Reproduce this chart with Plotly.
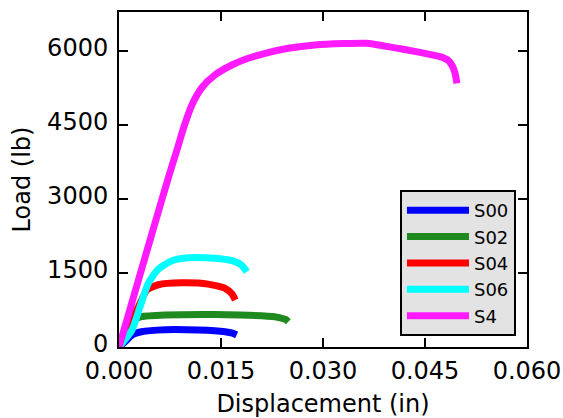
import plotly.graph_objects as go

# Displacement (in) / Load (lb)
s00_x = [0.0, 0.0009, 0.0019, 0.0033, 0.0068, 0.0117, 0.0156, 0.0167, 0.0173]
s00_y = [0, 107, 243, 310, 352, 345, 310, 280, 243]

s02_x = [0.0, 0.0010, 0.0023, 0.0033, 0.0068, 0.0141, 0.0178, 0.0229, 0.0237, 0.0245, 0.0249]
s02_y = [0, 230, 547, 614, 649, 660, 649, 614, 590, 560, 513]

s04_x = [0.0, 0.0015, 0.0031, 0.0041, 0.0058, 0.0092, 0.0131, 0.0156, 0.0166, 0.0171]
s04_y = [0, 440, 886, 1155, 1262, 1300, 1275, 1190, 1080, 953]

s06_x = [0.0, 0.0019, 0.0031, 0.0043, 0.0058, 0.0078, 0.0102, 0.0141, 0.0166, 0.0180, 0.0188]
s06_y = [0, 345, 817, 1291, 1580, 1750, 1810, 1800, 1750, 1662, 1526]

s4_x = [0.0, 0.0050, 0.0073, 0.0086, 0.0095, 0.0107, 0.0122, 0.0141, 0.0166, 0.0190, 0.0215, 0.0249, 0.0288, 0.0330, 0.0364, 0.0388, 0.0420, 0.0450, 0.0472, 0.0484, 0.0490, 0.0494, 0.0497]
s4_y = [0, 2372, 3452, 4030, 4440, 4900, 5260, 5513, 5716, 5852, 5953, 6054, 6122, 6150, 6156, 6107, 6030, 5950, 5884, 5810, 5700, 5560, 5345]

series_names = ["S00", "S02", "S04", "S06", "S4"]
series_x = [s00_x, s02_x, s04_x, s06_x, s4_x]
series_y = [s00_y, s02_y, s04_y, s06_y, s4_y]
series_colors = ["#0000ff", "#1f8a1f", "#ff0000", "#00ffff", "#ff1aff"]

x_ticks = [0.0, 0.015, 0.030, 0.045, 0.060]
y_ticks = [0, 1500, 3000, 4500, 6000]

fig = go.Figure()
for name, xs, ys, col in zip(series_names, series_x, series_y, series_colors):
    fig.add_trace(go.Scatter(
        x=xs, y=ys, mode="lines", name=name,
        line=dict(color=col, width=7, shape="spline", smoothing=0.6),
    ))

font = dict(family="DejaVu Sans", size=24, color="black")

fig.update_layout(
    width=563, height=418,
    margin=dict(l=119, r=36, t=12, b=71),
    paper_bgcolor="white", plot_bgcolor="white",
    font=font,
    showlegend=True,
    legend=dict(
        x=0.973, y=0.033, xanchor="right", yanchor="bottom",
        bgcolor="#e3e3e3", bordercolor="black", borderwidth=2,
        font=dict(family="DejaVu Sans", size=18, color="black"),
        tracegroupgap=0, itemwidth=62,
    ),
)

fig.update_xaxes(
    range=[0, 0.060], tickvals=x_ticks, tickformat=".3f",
    showgrid=False, zeroline=False, automargin=False,
    showline=True, linecolor="black", linewidth=2, mirror="allticks",
    ticks="inside", ticklen=9, tickwidth=1.5, tickcolor="black",
    title=dict(text="Displacement (in)", font=font, standoff=12),
    ticklabelstandoff=1,
)
fig.update_yaxes(
    range=[0, 6790], tickvals=y_ticks,
    showgrid=False, zeroline=False, automargin=False,
    showline=True, linecolor="black", linewidth=2, mirror="allticks",
    ticks="inside", ticklen=9, tickwidth=1.5, tickcolor="black",
    title=dict(text="Load (lb)", font=font, standoff=10),
    ticklabelstandoff=4, ticklabelshift=-3,
)

fig.write_html("out.html", config={"displayModeBar": False},
               post_script="document.body.style.margin='0px';")
